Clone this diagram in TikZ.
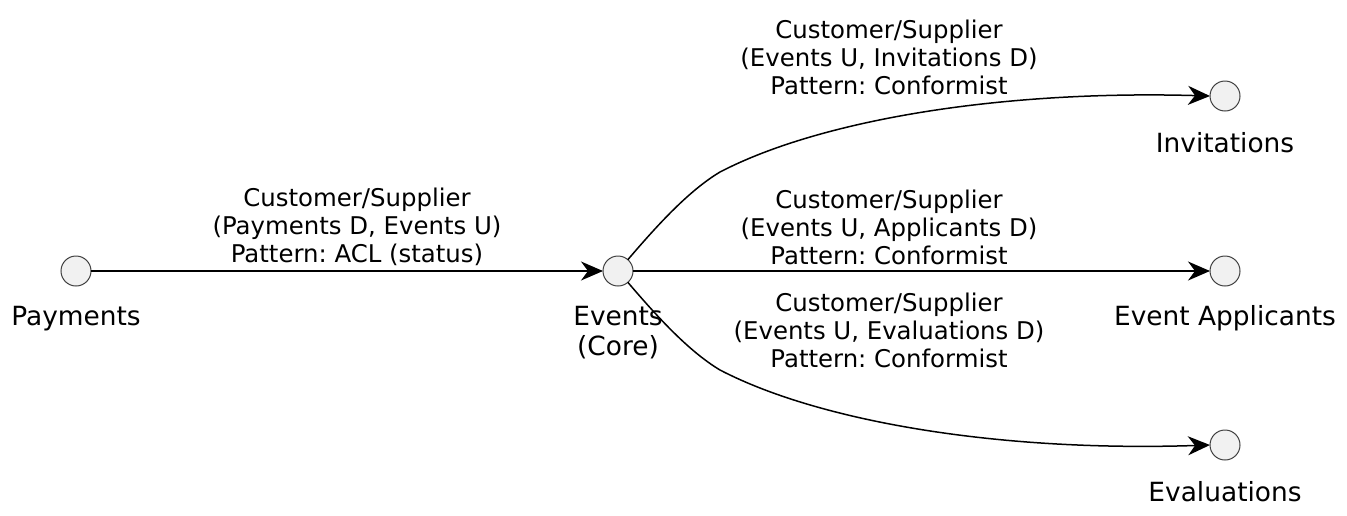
\documentclass[tikz,border=0pt]{standalone}
\usepackage{fontspec}
\setmainfont{DejaVu Sans}
\usetikzlibrary{arrows.meta}
\frenchspacing

\definecolor{ctxfill}{HTML}{F1F1F1}

\begin{document}
\begin{tikzpicture}[x=0.5pt, y=-0.5pt,
  every node/.style={font=\fontsize{12.2pt}{14pt}\selectfont, outer sep=0pt},
  ctx/.style={circle, draw=black!75, line width=0.5pt, fill=ctxfill, minimum size=15pt, inner sep=0pt},
  txt/.style={align=center, inner sep=0pt},
  ctxname/.style={txt, font=\fontsize{13.2pt}{15pt}\selectfont},
  rel/.style={line width=0.75pt, -{Stealth[length=11pt, width=9.5pt, inset=3.5pt]}}]
\useasboundingbox (0,0) rectangle (1347,515);

\node[ctx] (pay) at (76,271) {};
\node[ctx] (ev) at (618,271) {};
\node[ctx] (inv) at (1225,96) {};
\node[ctx] (app) at (1225,271) {};
\node[ctx] (eval) at (1225,445) {};

\node[ctxname] (payl) at (76,319) {Payments};
\node[ctxname] (evl) at (618,333) {Events\\(Core)};
\node[ctxname] (invl) at (1225,143) {Invitations};
\node[ctxname] (appl) at (1225,318) {Event Applicants};
\node[ctxname] (evall) at (1225,492) {Evaluations};

\node[txt] (payrel) at (357,227) {Customer/Supplier\\(Payments D, Events U)\\Pattern: ACL (status)};
\node[txt] (invrel) at (889,57) {Customer/Supplier\\(Events U, Invitations D)\\Pattern: Conformist};
\node[txt] (apprel) at (889,227) {Customer/Supplier\\(Events U, Applicants D)\\Pattern: Conformist};
\node[txt] (evalrel) at (889,330) {Customer/Supplier\\(Events U, Evaluations D)\\Pattern: Conformist};

\draw[rel] (pay) -- (ev);
\draw[rel] (ev) -- (app);
\draw[rel] (ev.49) .. controls (660,222) and (690,190) .. (720,172)
  .. controls (820,120) and (1000,90) .. (inv.west);
\draw[rel] (ev.-49) .. controls (660,320) and (690,352) .. (720,370)
  .. controls (820,422) and (1000,452) .. (eval.west);
\end{tikzpicture}
\end{document}
